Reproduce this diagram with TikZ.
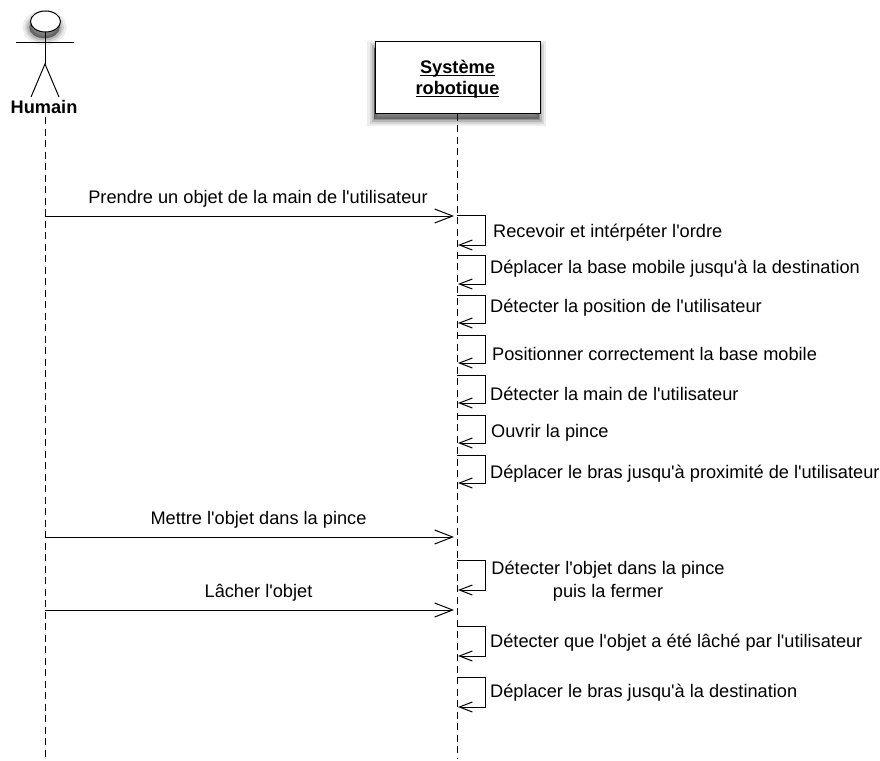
\documentclass[tikz,border=0pt]{standalone}
\usepackage{fontspec}
\setmainfont{Liberation Sans}
\usetikzlibrary{shadows}
\usetikzlibrary{arrows,arrows.meta}
\newcommand{\apos}{\textquotesingle}
\newlength{\largeur}
\newcommand{\souligne}[1]{\settowidth{\largeur}{#1}\rlap{\rule[-2.5pt]{\largeur}{1pt}}#1}
\tikzset{lifeline/.style={draw, dashed, dash pattern=on 7pt off 4.5pt, line width=1pt}}
\tikzset{msg/.style={draw, line width=1pt, -{Straight Barb[length=18pt,width=14pt,line width=1pt]}}}
\tikzset{selfmsg/.style={draw, line width=1pt, -{Straight Barb[length=13pt,width=10pt,line width=1pt]}}}
\tikzset{msglabel/.style={font=\fontsize{18.2}{20}\selectfont, inner sep=0pt}}
\tikzset{selflabel/.style={msglabel, anchor=west}}
\tikzset{softshadow/.style={
  general shadow={shadow xshift=-1pt, shadow yshift=-6pt, fill=black, draw=black, line width=14pt, opacity=0.07},
  general shadow={shadow xshift=-1pt, shadow yshift=-6pt, fill=black, draw=black, line width=9pt, opacity=0.10},
  general shadow={shadow xshift=-1pt, shadow yshift=-6pt, fill=black, draw=black, line width=5pt, opacity=0.14},
  general shadow={shadow xshift=-1pt, shadow yshift=-6pt, fill=black, draw=black, line width=1pt, opacity=0.20}}}

\begin{document}
\begin{tikzpicture}[x=1pt,y=-1pt]
\useasboundingbox (0,0) rectangle (880,760);
% acteur
\draw[fill=white, line width=1pt, softshadow] (45.5,21.5) ellipse (15 and 10.5);
\draw[line width=1pt] (45,32) -- (45,64);
\draw[line width=1pt] (16,42.5) -- (74,42.5);
\draw[line width=1pt] (31,97) -- (45,64) -- (59,97);
\node[font=\fontsize{18.2}{20}\bfseries, inner sep=0pt] (humain) at (44,107) {Humain};
\coordinate (humainbas) at (45,758);
\draw[lifeline] (45,117) -- (humainbas);
% systeme
\node[draw, fill=white, line width=1pt, minimum width=165pt, minimum height=71pt, softshadow,
  align=center, font=\fontsize{18.2}{21}\bfseries] (systeme) at (457.5,77.5) {\rule{0pt}{17pt}\souligne{Système}\\\souligne{robotique}};
\coordinate (systemebas) at (457.5,758);
\draw[lifeline] (systeme.south) -- (systemebas);
% messages
\coordinate (h1) at (45,216);
\coordinate (s1) at (454,216);
\draw[msg] (h1) -- (s1);
\node[msglabel] (m1) at (258,199) {Prendre un objet de la main de l\apos utilisateur};
\coordinate (h2) at (45,537);
\coordinate (s2) at (454,537);
\draw[msg] (h2) -- (s2);
\node[msglabel] (m2) at (258.5,520) {Mettre l\apos objet dans la pince};
\coordinate (h3) at (45,610);
\coordinate (s3) at (454,610);
\draw[msg] (h3) -- (s3);
\node[msglabel] (m3) at (258.5,593) {Lâcher l\apos objet};
% boucles
\coordinate (a1) at (457,215);
\coordinate (b1) at (458,245);
\draw[selfmsg] (a1) -- +(28,0) |- (b1);
\node[selflabel] (t1) at (493,233) {Recevoir et intérpéter l\apos ordre};
\coordinate (a2) at (457,255);
\coordinate (b2) at (458,284);
\draw[selfmsg] (a2) -- +(28,0) |- (b2);
\node[selflabel] (t2) at (490,269) {Déplacer la base mobile jusqu\apos à la destination};
\coordinate (a3) at (457,295);
\coordinate (b3) at (458,323);
\draw[selfmsg] (a3) -- +(28,0) |- (b3);
\node[selflabel] (t3) at (490,308) {Détecter la position de l\apos utilisateur};
\coordinate (a4) at (457,335);
\coordinate (b4) at (458,363);
\draw[selfmsg] (a4) -- +(28,0) |- (b4);
\node[selflabel] (t4) at (492,354) {Positionner correctement la base mobile};
\coordinate (a5) at (457,375);
\coordinate (b5) at (458,403);
\draw[selfmsg] (a5) -- +(28,0) |- (b5);
\node[selflabel] (t5) at (490,394) {Détecter la main de l\apos utilisateur};
\coordinate (a6) at (457,415);
\coordinate (b6) at (458,443);
\draw[selfmsg] (a6) -- +(28,0) |- (b6);
\node[selflabel] (t6) at (491,433) {Ouvrir la pince};
\coordinate (a7) at (457,455);
\coordinate (b7) at (458,483);
\draw[selfmsg] (a7) -- +(28,0) |- (b7);
\node[selflabel] (t7) at (490,474) {Déplacer le bras jusqu\apos à proximité de l\apos utilisateur};
\coordinate (a8) at (457,560);
\coordinate (b8) at (458,590);
\draw[selfmsg, line width=0.6pt] (a8) -- +(28,0) |- (b8);
\node[msglabel, align=center, font=\fontsize{18.2}{23}\selectfont] (t8) at (608,581) {Détecter l\apos objet dans la pince\\puis la fermer};
\coordinate (a9) at (457,626);
\coordinate (b9) at (458,656);
\draw[selfmsg] (a9) -- +(28,0) |- (b9);
\node[selflabel] (t9) at (490,643) {Détecter que l\apos objet a été lâché par l\apos utilisateur};
\coordinate (a10) at (457,677);
\coordinate (b10) at (458,707);
\draw[selfmsg] (a10) -- +(28,0) |- (b10);
\node[selflabel] (t10) at (490,693) {Déplacer le bras jusqu\apos à la destination};
\end{tikzpicture}
\end{document}
